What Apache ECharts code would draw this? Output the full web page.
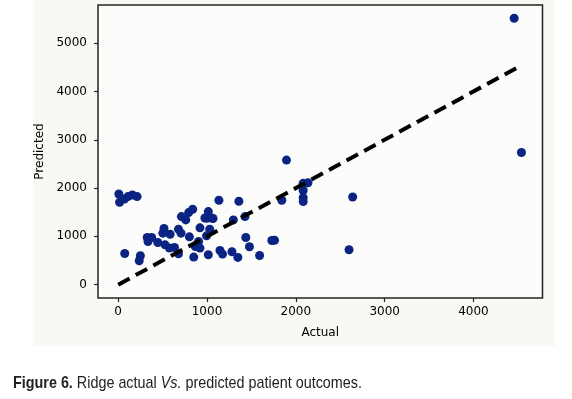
<!DOCTYPE html>
<html>
<head>
<meta charset="utf-8">
<script src="https://cdn.jsdelivr.net/npm/echarts@6/dist/echarts.min.js"></script>
<style>
  html, body { margin: 0; padding: 0; background: #ffffff; }
  #main { width: 572px; height: 399px; }
</style>
</head>
<body>
<div id="main"></div>
<script>
// actual vs predicted values
var actual = [
  4458, 4540, 1895, 2640, 2599, 2083, 2083, 2083, 2083, 2137,
  1842, 1730, 1760, 1478, 1592, 1437, 1428, 1359, 1297, 1281,
  1347, 1134, 1146, 1175, 1015, 1015, 999, 1068, 1031, 995,
  921, 921, 905, 868, 851, 802, 839, 794, 761, 712,
  679, 708, 679, 634, 577, 585, 516, 503, 528, 446,
  377, 327, 336, 250, 237, 74, 8, 16, 70, 110,
  160, 213, 976, 1052
];
var predicted = [
  5516, 2737, 2579, 1816, 722, 2098, 1950, 1800, 1720, 2111,
  1747, 915, 920, 784, 605, 977, 1410, 1726, 1341, 681,
  564, 1747, 708, 633, 619, 1513, 1375, 1369, 1149, 1011,
  1176, 757, 894, 791, 571, 990, 1561, 1492, 1341, 1410,
  1149, 1066, 640, 770, 757, 1045, 1162, 1066, 825, 873,
  977, 977, 894, 598, 495, 646, 1878, 1706, 1774, 1823,
  1857, 1823, 1381, 1381
];
var xTicks = [0, 1000, 2000, 3000, 4000];
var yTicks = [0, 1000, 2000, 3000, 4000, 5000];
// ideal fit line: from min actual to max actual
var fitLine = [[0, 0], [4540, 4540]];

var points = actual.map(function (a, i) { return [a, predicted[i]]; });

var myChart = echarts.init(document.getElementById('main'));
var tickFont = { fontFamily: 'DejaVu Sans', fontSize: 12, color: '#000' };
var plain = function (v) { return String(v); };

myChart.setOption({
  animation: false,
  backgroundColor: '#ffffff',
  graphic: [
    {
      type: 'rect', z: -10, silent: true,
      shape: { x: 33, y: 0, width: 522, height: 346 },
      style: { fill: '#f8f8f5' }
    },
    {
      type: 'text', x: 13, y: 375, scaleX: 0.845, originX: 0,
      style: {
        text: '{b|Figure 6.} Ridge actual {i|Vs.} predicted patient outcomes.',
        font: '17px "Liberation Sans", sans-serif',
        fill: '#222',
        rich: {
          b: { fontWeight: 'bold', fontSize: 17, fontFamily: 'Liberation Sans', fill: '#222' },
          i: { fontStyle: 'italic', fontSize: 17, fontFamily: 'Liberation Sans', fill: '#222' }
        }
      }
    }
  ],
  grid: {
    left: 98, right: 29.5, top: 5, bottom: 101,
    show: true, backgroundColor: '#fcfcfa',
    borderColor: '#222', borderWidth: 1.5
  },
  xAxis: {
    type: 'value', min: -227, max: 4777,
    name: 'Actual', nameLocation: 'middle', nameGap: 29,
    nameTextStyle: tickFont,
    axisLine: { show: false, onZero: false },
    axisTick: { show: true, inside: false, length: 4, lineStyle: { color: '#222', width: 1.2 }, customValues: xTicks },
    axisLabel: Object.assign({ margin: 8, customValues: xTicks, formatter: plain }, tickFont),
    splitLine: { show: false }
  },
  yAxis: {
    type: 'value', min: -276, max: 5790,
    name: 'Predicted', nameLocation: 'middle', nameGap: 45, nameRotate: 90,
    nameTextStyle: tickFont,
    axisLine: { show: false, onZero: false },
    axisTick: { show: true, inside: false, length: 4, lineStyle: { color: '#222', width: 1.2 }, customValues: yTicks },
    axisLabel: Object.assign({ margin: 11, customValues: yTicks, formatter: plain }, tickFont),
    splitLine: { show: false }
  },
  series: [
    {
      type: 'scatter',
      data: points,
      symbolSize: 9,
      itemStyle: { color: '#0b2383', opacity: 1 }
    },
    {
      type: 'line',
      data: fitLine,
      symbol: 'none',
      lineStyle: { color: '#000', width: 4, type: [13, 7], cap: 'butt' },
      z: 3
    }
  ]
});
</script>
</body>
</html>
